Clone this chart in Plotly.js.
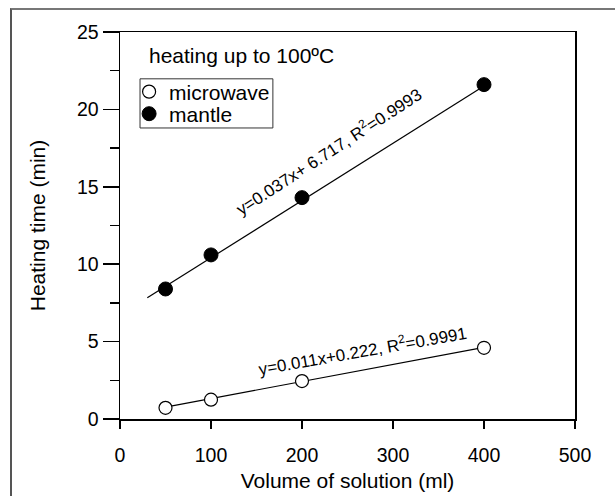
<!DOCTYPE html>
<html>
<head>
<meta charset="utf-8">
<script src="https://cdn.plot.ly/plotly-3.0.1.min.js"></script>
<style>
  html, body { margin: 0; padding: 0; background: #fff; }
  #wrap { position: relative; width: 615px; height: 496px; overflow: hidden; }
  #chart { position: absolute; left: 0; top: 0; width: 615px; height: 496px; }
  #frame { position: absolute; left: 10px; top: 8px; width: 615px; height: 496px;
           border-left: 2px solid #555; border-top: 2px solid #777; pointer-events: none; }
</style>
</head>
<body>
<div id="wrap">
  <div id="chart"></div>
  <div id="frame"></div>
</div>
<script>
// ---- data ----
const volume = [50, 100, 200, 400];           // ml
const microwave = [0.72, 1.25, 2.45, 4.6];    // min
const mantle = [8.4, 10.6, 14.3, 21.6];       // min
const seriesNames = ["microwave", "mantle"];
const fitSlope = [0.011, 0.037];
const fitIntercept = [0.222, 6.717];
const fitXStart = [50, 30];
const fitXEnd = [400, 400];
const fitLabels = ["y=0.011x+0.222, R<sup>2</sup>=0.9991", "y=0.037x+ 6.717, R<sup>2</sup>=0.9993"];
const xTicks = [0, 100, 200, 300, 400, 500];
const yTicks = [0, 5, 10, 15, 20, 25];
const noteText = "heating up to 100ºC";

const FONT = "Arial, 'Liberation Sans', sans-serif";

function fitLine(i) {
  const xs = [fitXStart[i], fitXEnd[i]];
  return { x: xs, y: xs.map(v => fitSlope[i] * v + fitIntercept[i]) };
}

const traces = [];
[0, 1].forEach(i => {
  const f = fitLine(i);
  traces.push({
    x: f.x, y: f.y, mode: "lines", type: "scatter", showlegend: false, hoverinfo: "skip",
    line: { color: "#000", width: 1.2 }
  });
});
traces.push({
  x: volume, y: microwave, mode: "markers", type: "scatter", name: seriesNames[0],
  legend: "legend",
  marker: { symbol: "circle", size: 13, color: "#fff", line: { color: "#000", width: 1.2 } }
});
traces.push({
  x: volume, y: mantle, mode: "markers", type: "scatter", name: seriesNames[1],
  legend: "legend2",
  marker: { symbol: "circle", size: 14, color: "#000", line: { color: "#000", width: 1 } }
});

const legendCommon = {
  xanchor: "left", yanchor: "middle", borderwidth: 0, bgcolor: "rgba(0,0,0,0)",
  font: { family: FONT, size: 21, color: "#000" }, itemwidth: 30
};

const layout = {
  width: 615, height: 496,
  margin: { l: 120, r: 40, t: 32, b: 77 },
  paper_bgcolor: "#fff", plot_bgcolor: "#fff",
  font: { family: FONT, size: 19, color: "#000" },
  showlegend: true,
  legend: Object.assign({ x: 0.02, y: 0.845 }, legendCommon),
  legend2: Object.assign({ x: 0.02, y: 0.788 }, legendCommon),
  shapes: [
    { type: "rect", xref: "paper", yref: "paper", x0: 0.044, x1: 0.336, y0: 0.752, y1: 0.879,
      line: { color: "#333", width: 1 }, fillcolor: "rgba(0,0,0,0)", layer: "above" }
  ],
  xaxis: {
    range: [0, 500], tickvals: xTicks, ticktext: xTicks.map(String),
    ticks: "outside", ticklen: 8, tickwidth: 1.5, tickcolor: "#000",
    showline: true, linecolor: "#000", linewidth: 1.5, mirror: true,
    showgrid: false, zeroline: false, ticklabelstandoff: 10,
    tickfont: { family: FONT, size: 19.5 },
    title: { text: "Volume of solution (ml)", font: { family: FONT, size: 21 }, standoff: 8 }
  },
  yaxis: {
    range: [0, 25], tickvals: yTicks, ticktext: yTicks.map(String),
    ticks: "outside", ticklen: 16, tickwidth: 1.5, tickcolor: "#000",
    minor: { dtick: 2.5, ticks: "outside", ticklen: 9, tickwidth: 1.5, tickcolor: "#000", showgrid: false },
    showline: true, linecolor: "#000", linewidth: 1.5, mirror: true,
    showgrid: false, zeroline: false,
    tickfont: { family: FONT, size: 19.5 },
    title: { text: "Heating time (min)", font: { family: FONT, size: 21 }, standoff: 25 }
  },
  annotations: [
    { xref: "paper", yref: "paper", x: 0.059, y: 0.94, xanchor: "left", yanchor: "middle",
      text: noteText, showarrow: false, font: { family: FONT, size: 21, color: "#000" } },
    { xref: "x", yref: "y", x: 266, y: 4.46, text: fitLabels[0], showarrow: false, textangle: -10,
      font: { family: FONT, size: 17, color: "#000" } },
    { xref: "x", yref: "y", x: 228.6, y: 17.3, text: fitLabels[1], showarrow: false, textangle: -33,
      font: { family: FONT, size: 17, color: "#000" } }
  ]
};

Plotly.newPlot("chart", traces, layout, { displayModeBar: false, staticPlot: true });
</script>
</body>
</html>
